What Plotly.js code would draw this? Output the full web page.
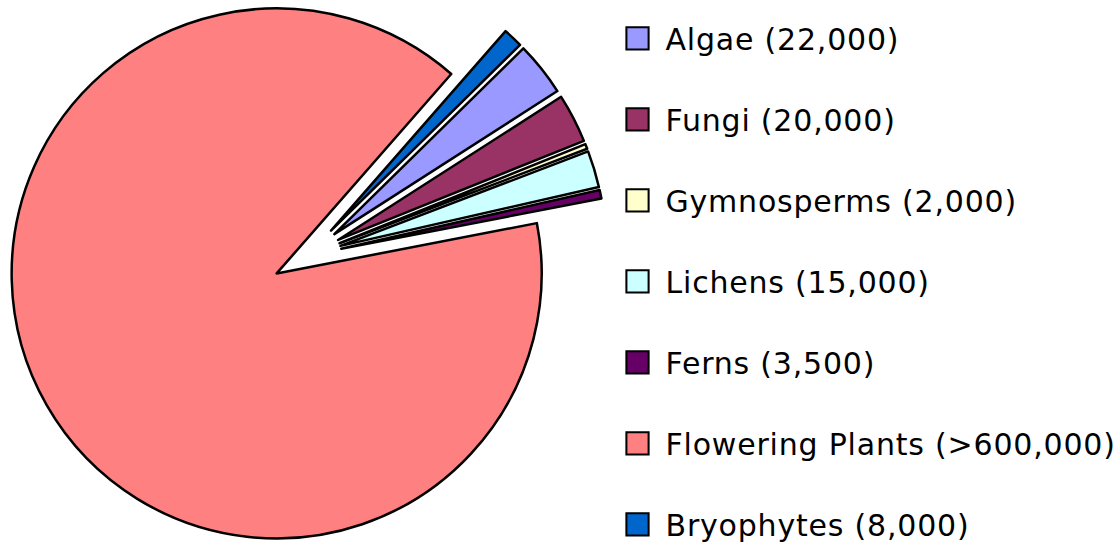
<!DOCTYPE html>
<html>
<head>
<meta charset="utf-8">
<script src="https://cdn.plot.ly/plotly-3.0.1.min.js"></script>
<style>
  html, body { margin: 0; padding: 0; overflow: hidden; background: #ffffff; width: 1116px; height: 543px; }
  #chart { position: absolute; left: -80px; top: -80px; width: 1300px; height: 720px; }
  #chart .legendtext { letter-spacing: 0.8px; }
</style>
</head>
<body>
<div id="chart"></div>
<script>
// Data
var categories = ["Algae", "Fungi", "Gymnosperms", "Lichens", "Ferns", "Flowering Plants", "Bryophytes"];
var speciesCounts = [22000, 20000, 2000, 15000, 3500, 600000, 8000];
var countLabels = ["22,000", "20,000", "2,000", "15,000", "3,500", ">600,000", "8,000"];
var explode = [0.132, 0.132, 0.132, 0.132, 0.132, 0.132, 0.132];
var sliceColors = ["#9999FF", "#993366", "#FFFFCC", "#CCFFFF", "#660066", "#FF8080", "#0066CC"];

var legendLabels = categories.map(function (c, i) { return c + " (" + countLabels[i] + ")<br> "; });

var trace = {
  type: "pie",
  labels: legendLabels,
  values: speciesCounts,
  pull: explode,
  sort: false,
  direction: "clockwise",
  rotation: 45.5,
  textinfo: "none",
  hoverinfo: "label+value",
  marker: { colors: sliceColors, line: { color: "#000000", width: 2.5 } },
  domain: { x: [0.06692, 0.52846], y: [0.11667, 0.95] }
};

var layout = {
  width: 1300,
  height: 720,
  margin: { l: 0, r: 0, t: 0, b: 0, autoexpand: false },
  paper_bgcolor: "#ffffff",
  showlegend: true,
  legend: {
    x: 0.535, xanchor: "left",
    y: 0.87167, yanchor: "top",
    font: { family: "DejaVu Sans", size: 30, color: "#000000" },
    valign: "top",
    itemwidth: 40,
    bgcolor: "rgba(0,0,0,0)",
    borderwidth: 0,
    tracegroupgap: 0
  }
};

var gd = document.getElementById("chart");
function enlargeSymbols() {
  var pies = gd.querySelectorAll("path.legendpie");
  pies.forEach(function (p) { p.setAttribute("transform", "translate(22,0) scale(1.85)"); p.style.strokeWidth = "1.1px"; });
  gd.querySelectorAll(".legend .scrollbox, .legend").forEach(function (g) { g.removeAttribute("clip-path"); });
}
Plotly.newPlot(gd, [trace], layout, { staticPlot: true }).then(function () {
  enlargeSymbols();
  gd.on && gd.on("plotly_afterplot", enlargeSymbols);
});
</script>
</body>
</html>
